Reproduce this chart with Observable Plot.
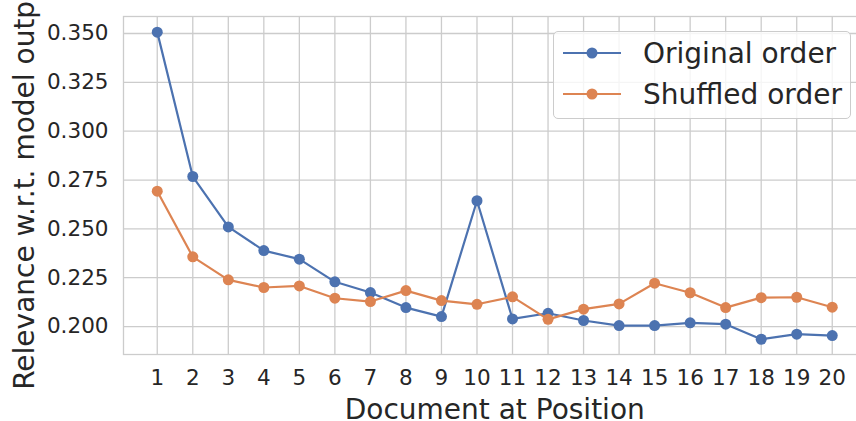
<!DOCTYPE html>
<html>
<head>
<meta charset="utf-8">
<script src="https://cdn.jsdelivr.net/npm/d3@7"></script>
<script src="https://cdn.jsdelivr.net/npm/@observablehq/plot@0.6"></script>
<style>
  html, body { margin: 0; padding: 0; background: #fff; overflow: hidden; width: 856px; height: 421px; }
  #wrap { position: relative; width: 856px; height: 421px; font-family: "DejaVu Sans", sans-serif; color: #262626; }
  #legend { position: absolute; left: 553px; top: 31px; width: 296px; height: 86px; border: 1px solid #cccccc; border-radius: 5px; background: rgba(255,255,255,0.8); box-sizing: content-box; }
  .row { position: absolute; left: 0; height: 30px; display: flex; align-items: center; font-size: 28px; white-space: nowrap; }
  .row svg { margin-left: 9px; margin-right: 22px; }
</style>
</head>
<body>
<div id="wrap"></div>
<script>
const positions = [1,2,3,4,5,6,7,8,9,10,11,12,13,14,15,16,17,18,19,20];
const originalOrder = [0.3507,0.2768,0.2510,0.2389,0.2345,0.2229,0.2174,0.2097,0.2051,0.2644,0.2039,0.2068,0.2031,0.2005,0.2005,0.2019,0.2012,0.1935,0.1961,0.1954];
const shuffledOrder = [0.2693,0.2357,0.2239,0.2200,0.2208,0.2145,0.2128,0.2184,0.2133,0.2114,0.2152,0.2037,0.2089,0.2116,0.2222,0.2173,0.2097,0.2148,0.2150,0.2099];
const seriesNames = ["Original order", "Shuffled order"];
const seriesColors = ["#4c72b0", "#dd8452"];
const yTicks = [0.200, 0.225, 0.250, 0.275, 0.300, 0.325, 0.350];
const xLabel = "Document at Position";
const yLabel = "Relevance w.r.t. model output";

const orig = positions.map((p, i) => ({pos: p, value: originalOrder[i], series: seriesNames[0]}));
const shuf = positions.map((p, i) => ({pos: p, value: shuffledOrder[i], series: seriesNames[1]}));

const chart = Plot.plot({
  width: 856,
  height: 421,
  marginLeft: 123,
  marginTop: 16,
  marginBottom: 67,
  marginRight: -9.5,
  style: {fontFamily: "DejaVu Sans, sans-serif", color: "#262626", background: "transparent", overflow: "visible"},
  x: {domain: [0.05, 20.95], ticks: positions, tickFormat: d => String(d)},
  y: {domain: [0.1857, 0.3587], ticks: yTicks, tickFormat: d3.format(".3f")},
  color: {domain: seriesNames, range: seriesColors},
  marks: [
    Plot.gridX(positions, {stroke: "#cccccc", strokeOpacity: 1, strokeWidth: 1.3}),
    Plot.gridY(yTicks, {stroke: "#cccccc", strokeOpacity: 1, strokeWidth: 1.3}),
    Plot.frame({stroke: "#cccccc", strokeWidth: 1.3}),
    Plot.axisX(positions, {label: null, tickSize: 0, tickPadding: 15.5, fontSize: 21.5, tickFormat: d => String(d)}),
    Plot.axisY(yTicks, {label: null, tickSize: 0, tickPadding: 15, fontSize: 21.5, tickFormat: d3.format(".3f")}),
    Plot.text([xLabel], {text: d => d, frameAnchor: "bottom", textAnchor: "middle", lineAnchor: "middle", dy: 55.5, fontSize: 28, fill: "#262626"}),
    Plot.text([yLabel], {text: d => d, frameAnchor: "left", textAnchor: "middle", lineAnchor: "middle", dx: -98.7, dy: -4.5, rotate: -90, fontSize: 28, fill: "#262626"}),
    Plot.line(orig, {x: "pos", y: "value", stroke: "series", strokeWidth: 2.2}),
    Plot.dot(orig, {x: "pos", y: "value", fill: "series", r: 5.5, stroke: null}),
    Plot.line(shuf, {x: "pos", y: "value", stroke: "series", strokeWidth: 2.2}),
    Plot.dot(shuf, {x: "pos", y: "value", fill: "series", r: 5.5, stroke: null})
  ]
});

const wrap = document.getElementById("wrap");
wrap.appendChild(chart);

const legend = document.createElement("div");
legend.id = "legend";
seriesNames.forEach((name, i) => {
  const row = document.createElement("div");
  row.className = "row";
  row.style.top = (i === 0 ? 6 : 47) + "px";
  row.innerHTML = `<svg width="58" height="12"><line x1="0" x2="58" y1="6" y2="6" stroke="${seriesColors[i]}" stroke-width="2.2"/><circle cx="29" cy="6" r="5.5" fill="${seriesColors[i]}"/></svg><span>${name}</span>`;
  legend.appendChild(row);
});
wrap.appendChild(legend);
</script>
</body>
</html>
